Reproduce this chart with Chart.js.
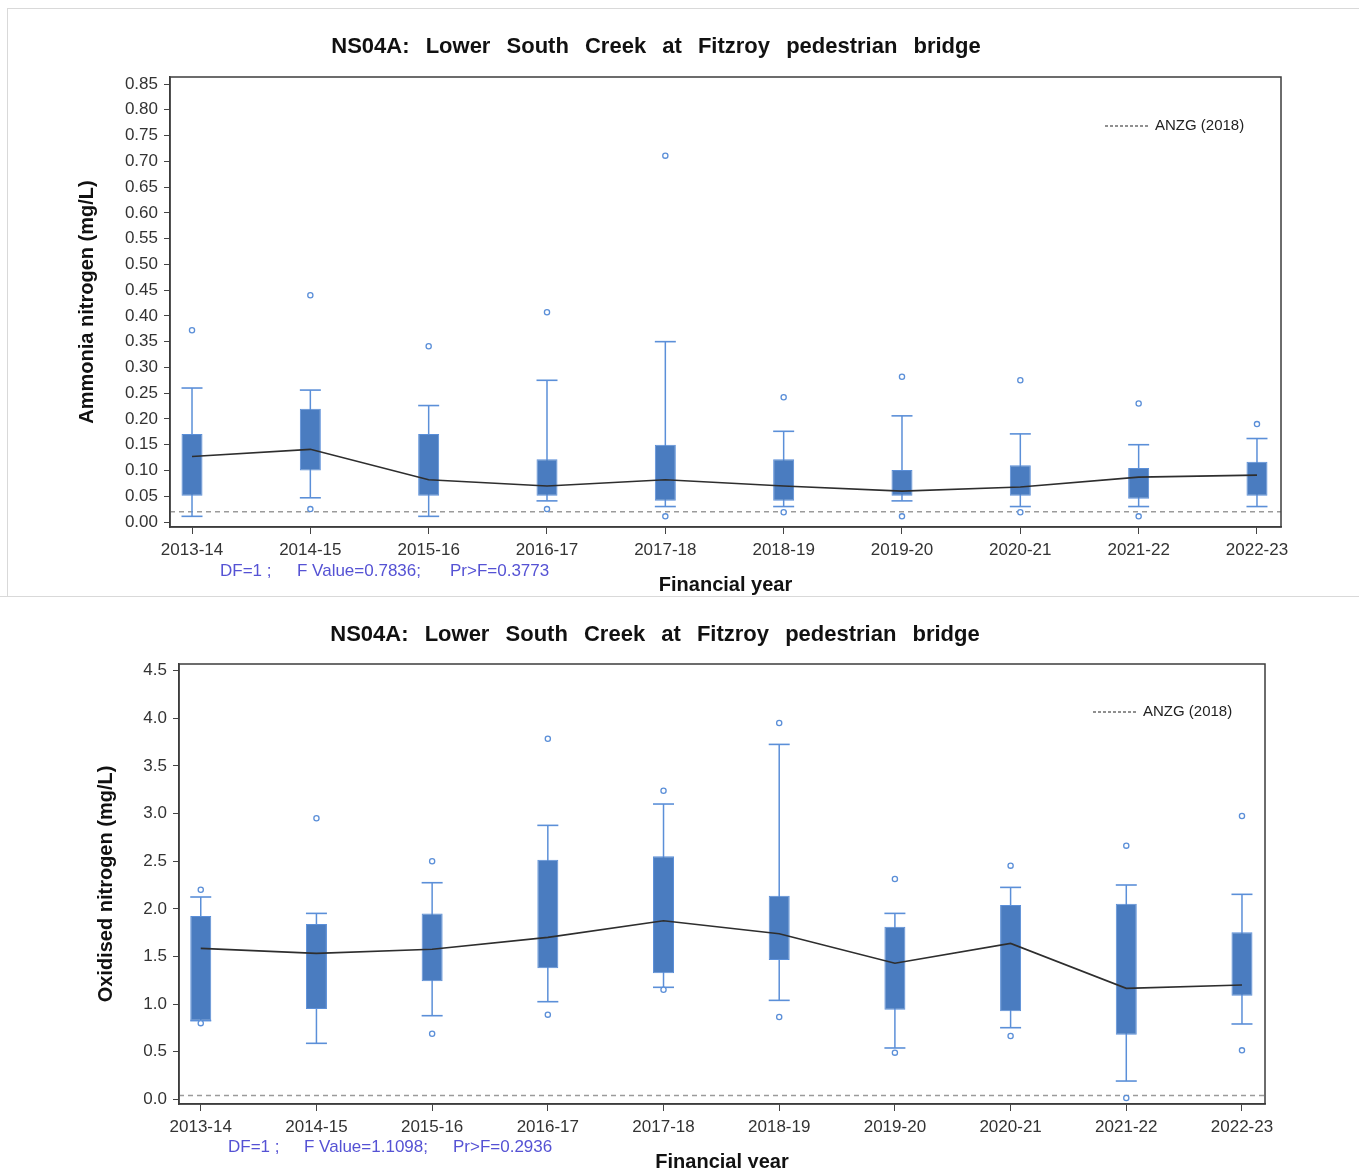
<!DOCTYPE html>
<html>
<head>
<meta charset="utf-8">
<title>NS04A box plots</title>
<script src="https://cdn.jsdelivr.net/npm/chart.js@4/dist/chart.umd.min.js"></script>
<style>
  html, body { margin: 0; padding: 0; background: #fff; overflow: hidden; }
  #page { position: relative; width: 1359px; height: 1168px; }
  canvas { position: absolute; left: 0; }
  #chartTop { top: 0; }
  #chartBottom { top: 597px; }
  .rule { position: absolute; background: #d9d9d9; }
</style>
</head>
<body>
<div id="page">
  <canvas id="chartTop" width="1359" height="596"></canvas>
  <canvas id="chartBottom" width="1359" height="580"></canvas>
  <div class="rule" style="left:7px;top:8px;width:1352px;height:1px"></div>
  <div class="rule" style="left:7px;top:8px;width:1px;height:588px"></div>
  <div class="rule" style="left:0;top:596px;width:1359px;height:1px"></div>
</div>
<script>
// categories
const years = ['2013-14', '2014-15', '2015-16', '2016-17', '2017-18', '2018-19', '2019-20', '2020-21', '2021-22', '2022-23'];

// Ammonia nitrogen (mg/L)
const ammLow   = [0.011, 0.047, 0.011, 0.041, 0.030, 0.030, 0.041, 0.030, 0.030, 0.030];
const ammQ1    = [0.051, 0.100, 0.051, 0.051, 0.041, 0.041, 0.051, 0.051, 0.045, 0.051];
const ammQ3    = [0.171, 0.220, 0.171, 0.122, 0.150, 0.122, 0.101, 0.110, 0.105, 0.117];
const ammHigh  = [0.260, 0.256, 0.226, 0.275, 0.350, 0.176, 0.206, 0.171, 0.150, 0.162];
const ammMean  = [0.127, 0.141, 0.082, 0.070, 0.082, 0.070, 0.060, 0.068, 0.087, 0.091];
const ammOutHi = [0.372, 0.440, 0.341, 0.407, 0.711, 0.242, 0.282, 0.275, 0.230, 0.190];
const ammOutLo = [null, 0.025, null, 0.025, 0.011, 0.019, 0.011, 0.019, 0.011, null];
const ammRef = 0.02;
const ammTicks = [0, 0.05, 0.10, 0.15, 0.20, 0.25, 0.30, 0.35, 0.40, 0.45, 0.50, 0.55, 0.60, 0.65, 0.70, 0.75, 0.80, 0.85];
const ammStats = ['DF=1 ;', 'F Value=0.7836;', 'Pr>F=0.3773'];

// Oxidised nitrogen (mg/L)
const oxLow   = [0.826, 0.588, 0.878, 1.025, 1.176, 1.039, 0.539, 0.752, 0.192, 0.791];
const oxQ1    = [0.826, 0.948, 1.239, 1.375, 1.323, 1.463, 0.941, 0.924, 0.679, 1.088];
const oxQ3    = [1.924, 1.840, 1.952, 2.516, 2.551, 2.138, 1.812, 2.040, 2.054, 1.753];
const oxHigh  = [2.124, 1.952, 2.274, 2.876, 3.100, 3.726, 1.952, 2.225, 2.250, 2.152];
const oxMean  = [1.585, 1.532, 1.575, 1.700, 1.875, 1.739, 1.428, 1.637, 1.165, 1.200];
const oxOutHi = [2.200, 2.950, 2.500, 3.786, 3.240, 3.950, 2.313, 2.453, 2.663, 2.974];
const oxOutLo = [0.800, null, 0.689, 0.889, 1.151, 0.864, 0.490, 0.665, 0.014, 0.514];
const oxRef = 0.04;
const oxTicks = [0, 0.5, 1.0, 1.5, 2.0, 2.5, 3.0, 3.5, 4.0, 4.5];
const oxStats = ['DF=1 ;', 'F Value=1.1098;', 'Pr>F=0.2936'];

const siteTitle = 'NS04A: Lower South Creek at Fitzroy pedestrian bridge';
const legendText = 'ANZG (2018)';

const FONT = '"Liberation Sans", Arial, sans-serif';
const BOX_FILL = '#4a7cc0';
const BOX_LINE = '#5b8fd8';

// turn a value list into {x, y} points, skipping gaps
function pts(arr) {
    return arr.map((v, i) => v == null ? null : { x: i, y: v }).filter(p => p);
}

function boxDatasets(low, q1, q3, high, mean, outHi, outLo) {
    return [
        { type: 'bar', label: 'whisker', data: years.map((_, i) => ({ x: i, y: [low[i], high[i]] })),
          backgroundColor: BOX_LINE, maxBarThickness: 1.5, grouped: false, order: 5 },
        { type: 'bar', label: 'box', data: years.map((_, i) => ({ x: i, y: [q1[i], q3[i]] })),
          backgroundColor: BOX_FILL, borderColor: BOX_LINE, borderWidth: 1, borderSkipped: false,
          maxBarThickness: 21, grouped: false, order: 4 },
        { type: 'scatter', label: 'caps', data: pts(low).concat(pts(high)),
          pointStyle: 'line', pointRadius: 10.5, borderColor: BOX_LINE, borderWidth: 1.6, order: 3 },
        { type: 'line', label: 'mean', data: pts(mean), borderColor: '#2e2e2e', borderWidth: 1.6,
          pointRadius: 0, fill: false, order: 2 },
        { type: 'scatter', label: 'outliers', data: pts(outHi).concat(pts(outLo)),
          pointStyle: 'circle', pointRadius: 2.6, borderColor: BOX_LINE, backgroundColor: '#fff',
          borderWidth: 1.3, order: 1 }
    ];
}

// reference line, frame, title, legend and stats text
const decor = {
    id: 'decor',
    beforeDatasetsDraw(chart, args, o) {
        const { ctx, chartArea: a, scales: { y } } = chart;
        const yy = y.getPixelForValue(o.ref);
        ctx.save();
        ctx.strokeStyle = '#9b9b9b';
        ctx.lineWidth = 1.5;
        ctx.setLineDash([5, 4]);
        ctx.beginPath();
        ctx.moveTo(a.left, yy);
        ctx.lineTo(a.right, yy);
        ctx.stroke();
        ctx.restore();
    },
    afterDraw(chart, args, o) {
        const { ctx, chartArea: a } = chart;
        ctx.save();
        ctx.strokeStyle = '#3c3c3c';
        ctx.lineWidth = 1.5;
        ctx.strokeRect(a.left, a.top, a.right - a.left, a.bottom - a.top);

        ctx.fillStyle = '#111';
        ctx.font = 'bold 22px ' + FONT;
        ctx.textAlign = 'center';
        ctx.textBaseline = 'middle';
        if ('wordSpacing' in ctx) ctx.wordSpacing = '10px';
        ctx.fillText(o.title, o.titleX, o.titleY);
        if ('wordSpacing' in ctx) ctx.wordSpacing = '0px';

        // legend
        ctx.strokeStyle = '#222';
        ctx.lineWidth = 1.2;
        ctx.setLineDash([3, 2]);
        ctx.beginPath();
        ctx.moveTo(o.legendX, o.legendY);
        ctx.lineTo(o.legendX + 45, o.legendY);
        ctx.stroke();
        ctx.setLineDash([]);
        ctx.font = '15px ' + FONT;
        ctx.fillStyle = '#222';
        ctx.textAlign = 'left';
        ctx.fillText(legendText, o.legendX + 50, o.legendY);

        // anova text
        ctx.font = '17px ' + FONT;
        ctx.fillStyle = '#5552d4';
        o.stats.forEach((s, i) => ctx.fillText(s, o.statsX[i], o.statsY));
        ctx.restore();
    }
};

function makeChart(id, datasets, s) {
    const canvas = document.getElementById(id);
    return new Chart(canvas, {
        type: 'bar',
        data: { datasets: datasets },
        plugins: [decor],
        options: {
            responsive: false,
            animation: false,
            layout: { padding: { top: s.area.top, right: canvas.width - s.area.right, left: 0, bottom: 0 } },
            plugins: {
                legend: { display: false },
                tooltip: { enabled: false },
                decor: s.decor
            },
            scales: {
                x: {
                    type: 'linear', offset: false, min: s.xMin, max: s.xMax,
                    afterBuildTicks: sc => { sc.ticks = years.map((_, i) => ({ value: i })); },
                    afterFit: sc => { sc.height = canvas.height - s.area.bottom; },
                    ticks: { callback: v => years[v], font: { family: FONT, size: 17 }, color: '#333',
                             padding: 6, maxRotation: 0, autoSkip: false },
                    grid: { offset: false, drawOnChartArea: false, tickLength: 7, color: '#444' },
                    border: { color: '#3c3c3c', width: 1.5 },
                    title: { display: true, text: 'Financial year', color: '#111',
                             font: { family: FONT, size: 20, weight: 'bold' },
                             padding: { top: 0, bottom: s.xTitlePad } }
                },
                y: {
                    min: s.yMin, max: s.yMax,
                    afterBuildTicks: sc => { sc.ticks = s.ticks.map(v => ({ value: v })); },
                    afterFit: sc => { sc.width = s.area.left; },
                    ticks: { callback: v => v.toFixed(s.decimals), font: { family: FONT, size: 17 },
                             color: '#333', padding: 6 },
                    grid: { drawOnChartArea: false, tickLength: 6, color: '#444' },
                    border: { color: '#3c3c3c', width: 1.5 },
                    title: { display: true, text: s.yTitle, color: '#111',
                             font: { family: FONT, size: 20, weight: 'bold' },
                             padding: { top: s.yTitlePad, bottom: 0 } }
                }
            }
        }
    });
}

makeChart('chartTop', boxDatasets(ammLow, ammQ1, ammQ3, ammHigh, ammMean, ammOutHi, ammOutLo), {
    area: { left: 170, top: 77, right: 1281, bottom: 527 },
    xMin: -0.186, xMax: 9.203, yMin: -0.0097, yMax: 0.8636,
    ticks: ammTicks, decimals: 2,
    yTitle: 'Ammonia nitrogen (mg/L)', yTitlePad: 75, xTitlePad: -1,
    decor: { ref: ammRef, title: siteTitle, titleX: 656, titleY: 47,
             legendX: 1105, legendY: 126, stats: ammStats, statsX: [220, 297, 450], statsY: 571 }
});

makeChart('chartBottom', boxDatasets(oxLow, oxQ1, oxQ3, oxHigh, oxMean, oxOutHi, oxOutLo), {
    area: { left: 179, top: 67, right: 1265, bottom: 507 },
    xMin: -0.188, xMax: 9.199, yMin: -0.049, yMax: 4.57,
    ticks: oxTicks, decimals: 1,
    yTitle: 'Oxidised nitrogen (mg/L)', yTitlePad: 94, xTitlePad: 3,
    decor: { ref: oxRef, title: siteTitle, titleX: 655, titleY: 38,
             legendX: 1093, legendY: 115, stats: oxStats, statsX: [228, 304, 453], statsY: 550 }
});
</script>
</body>
</html>
